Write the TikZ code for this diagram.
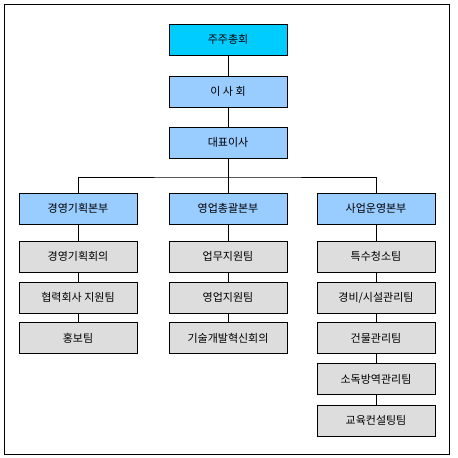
\documentclass[tikz,border=0pt]{standalone}
\usepackage{fontspec}
\newfontfamily\kr{Noto Sans CJK KR}
\definecolor{topc}{HTML}{00CCFF}
\definecolor{bluec}{HTML}{99CCFF}
\definecolor{grayc}{HTML}{DDDDDD}
\begin{document}
\begin{tikzpicture}[x=1pt,y=-1pt,
  box/.style={draw=black,line width=0.9pt,minimum width=118pt,minimum height=31pt,inner sep=0pt,font=\kr\fontsize{11}{13}\selectfont,anchor=center},
  topbox/.style={box,fill=topc},
  bluebox/.style={box,fill=bluec},
  graybox/.style={box,fill=grayc},
  conn/.style={line width=0.9pt}]
\useasboundingbox (0,0) rectangle (458,458);
\draw[line width=0.9pt] (4,4) rectangle (449,454);
\node[topbox] (a) at (228,39.5) {주주총회};
\node[bluebox] (b) at (228,91.5) {이 사 회};
\node[bluebox] (c) at (228,142.5) {대표이사};
\node[bluebox] (d1) at (78,208.5) {경영기획본부};
\node[bluebox] (d2) at (228,208.5) {영업총괄본부};
\node[bluebox] (d3) at (376,208.5) {사업운영본부};
\coordinate (j) at (228,177);
\node[graybox] (l1) at (78,256.5) {경영기획회의};
\node[graybox] (l2) at (78,297.5) {협력회사 지원팀};
\node[graybox] (l3) at (78,338) {홍보팀};
\node[graybox] (m1) at (228,256.5) {업무지원팀};
\node[graybox] (m2) at (228,297.5) {영업지원팀};
\node[graybox] (m3) at (228,338) {기술개발혁신회의};
\node[graybox] (r1) at (376,256.5) {특수청소팀};
\node[graybox] (r2) at (376,297.5) {경비/시설관리팀};
\node[graybox] (r3) at (376,338) {건물관리팀};
\node[graybox] (r4) at (376,379) {소독방역관리팀};
\node[graybox] (r5) at (376,420.5) {교육컨설팅팀};
\draw[conn] (a) -- (b);
\draw[conn] (b) -- (c);
\draw[conn] (c) -- (j);
\draw[conn] (d1.north) |- (j) -| (d3.north);
\draw[conn] (j) -- (d2);
\draw[conn] (d1) -- (l1);
\draw[conn] (l1) -- (l2);
\draw[conn] (l2) -- (l3);
\draw[conn] (d2) -- (m1);
\draw[conn] (m1) -- (m2);
\draw[conn] (m2) -- (m3);
\draw[conn] (d3) -- (r1);
\draw[conn] (r1) -- (r2);
\draw[conn] (r2) -- (r3);
\draw[conn] (r3) -- (r4);
\draw[conn] (r4) -- (r5);
\end{tikzpicture}
\end{document}
